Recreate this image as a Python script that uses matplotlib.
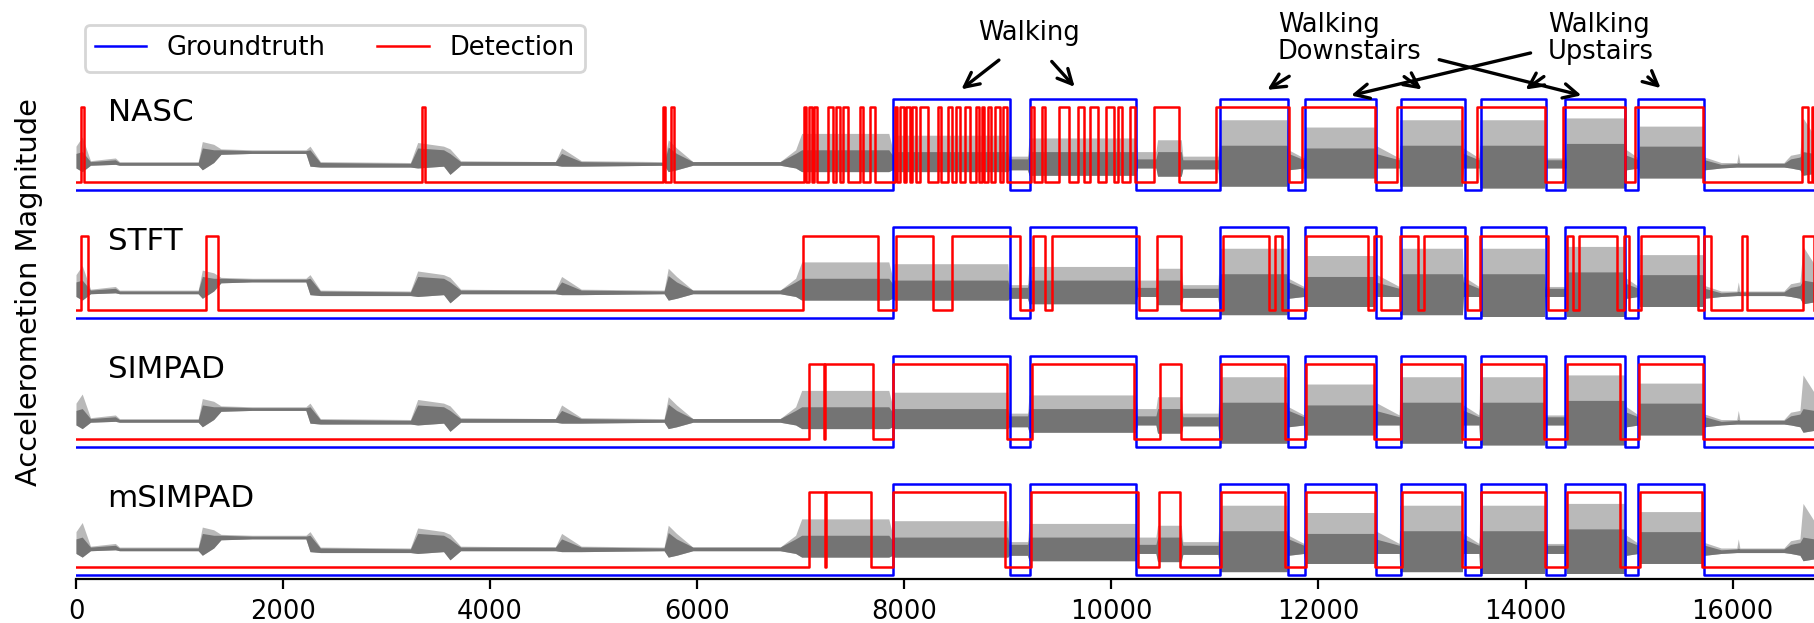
import numpy as np
import matplotlib.pyplot as plt

methods = ["NASC", "STFT", "SIMPAD", "mSIMPAD"]

# groundtruth walking periods (sample index)
gt_on = [7888, 9216, 11045, 11869, 12795, 13566, 14384, 15083]
gt_off = [9021, 10236, 11702, 12553, 13415, 14202, 14962, 15727]

# detections
nasc_on = [48, 3345, 5672, 5749, 7028, 7075, 7125, 7265, 7345, 7410, 7570, 7670,
           7906, 7963, 8021, 8078, 8147, 8326, 8422, 8498, 8582, 8689, 8746, 8804,
           8880, 8956, 9224, 9331, 9491, 9682, 9797, 9949, 10064, 10178, 10408,
           11014, 11839, 12759, 13533, 14362, 15060, 16669, 16765]
nasc_off = [77, 3371, 5691, 5771, 7050, 7105, 7160, 7315, 7380, 7460, 7600, 7715,
            7933, 7994, 8051, 8116, 8231, 8353, 8460, 8536, 8632, 8720, 8773, 8842,
            8926, 8995, 9254, 9357, 9587, 9739, 9873, 10026, 10102, 10224, 10656,
            11718, 12546, 13382, 14192, 14959, 15716, 16728, 16790]
stft_on = [48, 1252, 7019, 7918, 8459, 9242, 9422, 10441, 11080, 11582, 11877, 12539,
           12785, 13019, 13563, 14399, 14520, 14951, 15117, 15727, 16087, 16680]
stft_off = [114, 1374, 7742, 8280, 9120, 9360, 10262, 10675, 11521, 11643, 12482, 12607,
            12962, 13439, 14217, 14460, 14883, 15004, 15667, 15788, 16139, 16790]
simpad_on = [7077, 7232, 7895, 9231, 10468, 11057, 11877, 12800, 13566, 14399, 15099]
simpad_off = [7222, 7696, 8994, 10216, 10675, 11677, 12539, 13390, 14182, 14910, 15716]
msimpad_on = [7077, 7240, 7891, 9223, 10464, 11063, 11884, 12804, 13570, 14403, 15103]
msimpad_off = [7230, 7681, 8975, 10255, 10667, 11677, 12549, 13390, 14186, 14910, 15708]

# accelerometer magnitude envelope (% of groundtruth pulse height)
sig_x = [0, 60, 140, 380, 420, 1180, 1220, 1330, 1400, 1700, 2220, 2260, 2360,
         3230, 3300, 3550, 3612, 3715, 4630, 4690, 4880, 5680, 5720, 5800, 5958,
         6800, 6950, 7009, 7850, 7887, 7900, 9000, 9014, 9190, 9205, 10236, 10250,
         10430, 10446, 10675, 10690, 11030, 11045, 11695, 11710, 11860, 11869,
         12539, 12550, 12780, 12785, 13390, 13400, 13550, 13559, 14182, 14190,
         14390, 14395, 14966, 14975, 15090, 15099, 15716, 15730, 15889, 16040,
         16055, 16070, 16495, 16560, 16650, 16680, 16786]
sig_lo = [24, 20, 27, 28, 27, 27, 22, 30, 39, 40, 40, 26, 25,
          25, 24, 26, 17, 27, 27, 26, 26, 27, 20, 22, 27,
          27, 24, 20, 20, 22, 20, 20, 22, 22, 16, 16, 24,
          24, 15, 15, 23, 23, 4, 4, 22, 24, 13,
          13, 24, 24, 4, 4, 24, 24, 2, 2, 24,
          24, 2, 2, 22, 24, 13, 13, 22, 24, 25,
          25, 25, 25, 24, 22, 16, 18]
sig_core = [40, 42, 31, 33, 30, 30, 46, 44, 44, 43, 43, 44, 30,
            29, 46, 44, 40, 31, 31, 40, 31, 30, 47, 40, 31,
            31, 40, 44, 44, 38, 42, 42, 34, 34, 42, 42, 34,
            34, 42, 42, 33, 33, 49, 49, 40, 33, 46,
            46, 40, 33, 49, 49, 40, 33, 49, 49, 33,
            33, 51, 51, 38, 33, 48, 48, 33, 28, 29,
            30, 29, 29, 34, 36, 42, 40]
sig_peak = [48, 58, 32, 35, 31, 31, 53, 50, 45, 44, 44, 48, 31,
            30, 52, 48, 45, 32, 31, 46, 32, 31, 55, 46, 31,
            31, 44, 62, 62, 45, 60, 60, 37, 37, 57, 57, 42,
            42, 55, 55, 37, 37, 77, 77, 44, 35, 69,
            69, 49, 35, 77, 77, 46, 35, 77, 77, 35,
            35, 79, 79, 44, 35, 70, 70, 36, 30, 30,
            40, 30, 30, 38, 40, 79, 60]

x_end = 16786
detections = [(nasc_on, nasc_off), (stft_on, stft_off),
              (simpad_on, simpad_off), (msimpad_on, msimpad_off)]


def step_trace(on, off):
    xs, ys = [0], [0]
    for a, b in zip(on, off):
        xs += [a, a, b, b]
        ys += [0, 1, 1, 0]
    xs.append(x_end)
    ys.append(0)
    return np.array(xs), np.array(ys, dtype=float)


fig = plt.figure(figsize=(9.07, 3.115), dpi=200)
ax = fig.add_axes([76 / 1814, (623 - 579.3) / 623, 1 - 76 / 1814, 579.3 / 623])

sx = np.array(sig_x)
lo = np.array(sig_lo) / 100
core = np.array(sig_core) / 100
peak = np.array(sig_peak) / 100

gx, gy = step_trace(gt_on, gt_off)

for i, name in enumerate(methods):
    base = 0.044 + 1.412 * (len(methods) - 1 - i)
    ax.fill_between(sx, base + lo, base + peak, color="#b9b9b9", lw=0, zorder=1)
    ax.fill_between(sx, base + lo, base + core, color="#747474", lw=0, zorder=1)
    ax.plot(gx, base + gy, color="#0000ff", lw=0.9, zorder=2,
            label="Groundtruth" if i == 0 else None)
    dx, dy = step_trace(*detections[i])
    ax.plot(dx, base + 0.09 + 0.82 * dy, color="#ff0000", lw=0.9, zorder=3,
            label="Detection" if i == 0 else None)
    ax.text(305, base + 0.845, name, fontsize=11.15, va="center", ha="left")

ax.set_xlim(0, x_end)
ax.set_ylim(0, 6.366)
ax.set_yticks([])
ax.set_xticks(np.arange(0, 16001, 2000))
ax.tick_params(axis="x", labelsize=9.25, length=3.6, width=0.8)
for s in ["top", "right", "left"]:
    ax.spines[s].set_visible(False)

fig.text(29 / 1814, 0.531, "Accelerometion Magnitude", rotation=90,
         fontsize=10.4, ha="center", va="center")

ax.legend(loc="upper left", ncol=2, fontsize=9.25,
          bbox_to_anchor=(84.5 / 1814, 1 - 25 / 623), bbox_transform=fig.transFigure,
          borderaxespad=0)

# activity annotations
arw = dict(arrowstyle="->", lw=1.2, color="black", mutation_scale=13)
ax.text(9204, 6.0, "Walking", fontsize=9.25, ha="center", va="center")
ax.annotate("", xy=(8509, 5.347), xytext=(8956, 5.743), arrowprops=arw)
ax.annotate("", xy=(9681, 5.366), xytext=(9388, 5.736), arrowprops=arw)

ax.text(11609, 5.94, "Walking\nDownstairs", fontsize=9.25, ha="left", va="center",
        linespacing=1.05)
ax.annotate("", xy=(11461, 5.347), xytext=(11763, 5.56), arrowprops=arw)
ax.annotate("", xy=(13041, 5.347), xytext=(12784, 5.56), arrowprops=arw)
ax.annotate("", xy=(14592, 5.303), xytext=(13114, 5.725), arrowprops=arw)

ax.text(14214, 5.94, "Walking\nUpstairs", fontsize=9.25, ha="left", va="center",
        linespacing=1.05)
ax.annotate("", xy=(12263, 5.303), xytext=(14101, 5.798), arrowprops=arw)
ax.annotate("", xy=(13956, 5.347), xytext=(14221, 5.56), arrowprops=arw)
ax.annotate("", xy=(15345, 5.358), xytext=(15141, 5.56), arrowprops=arw)

fig.savefig("out.png", dpi=200)
